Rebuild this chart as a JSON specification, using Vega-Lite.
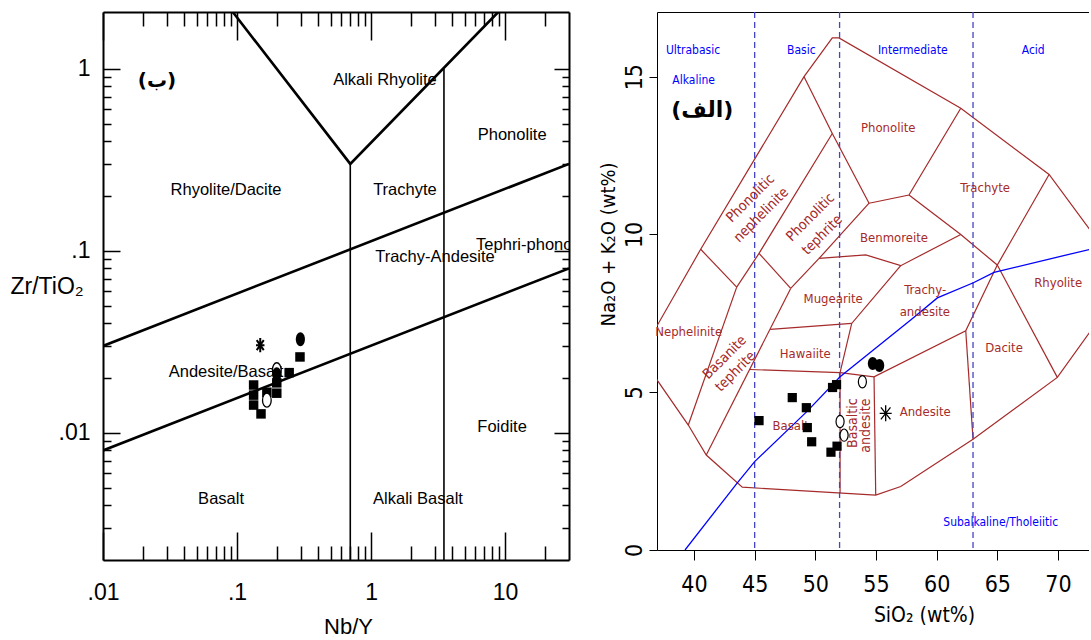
{
  "$schema": "https://vega.github.io/schema/vega-lite/v6.json",
  "background": "white",
  "padding": {"left": 10, "top": 11, "right": 0, "bottom": 0},
  "spacing": 29,
  "config": {"view": {"stroke": null}, "axis": {"grid": false}},
  "datasets": {
    "lz": [
      {"seg": "a", "g": "b", "o": 1, "x": 0.01, "y": 0.03}, {"seg": "a", "g": "b", "o": 2, "x": 30, "y": 0.3},
      {"seg": "b", "g": "b", "o": 1, "x": 0.01, "y": 0.008}, {"seg": "b", "g": "b", "o": 2, "x": 30, "y": 0.08},
      {"seg": "c", "g": "v", "o": 1, "x": 0.7, "y": 0.002}, {"seg": "c", "g": "v", "o": 2, "x": 0.7, "y": 0.3},
      {"seg": "d", "g": "v", "o": 1, "x": 3.5, "y": 0.002}, {"seg": "d", "g": "v", "o": 2, "x": 3.5, "y": 1},
      {"seg": "e", "g": "b", "o": 1, "x": 0.093, "y": 2.05}, {"seg": "e", "g": "b", "o": 2, "x": 0.7, "y": 0.3}, {"seg": "e", "g": "b", "o": 3, "x": 8.9, "y": 2.05}
    ],
    "ll": [
      {"x": 1.27, "y": 0.867, "t": "Alkali Rhyolite", "k": "c"},
      {"x": 11.3, "y": 0.432, "t": "Phonolite", "k": "c"},
      {"x": 0.0828, "y": 0.216, "t": "Rhyolite/Dacite", "k": "c"},
      {"x": 1.79, "y": 0.216, "t": "Trachyte", "k": "c"},
      {"x": 6.08, "y": 0.107, "t": "Tephri-phonolite", "k": "l"},
      {"x": 3.0, "y": 0.0923, "t": "Trachy-Andesite", "k": "c"},
      {"x": 0.0828, "y": 0.0216, "t": "Andesite/Basalt", "k": "c"},
      {"x": 0.076, "y": 0.00432, "t": "Basalt", "k": "c"},
      {"x": 2.24, "y": 0.00432, "t": "Alkali Basalt", "k": "c"},
      {"x": 9.5, "y": 0.0107, "t": "Foidite", "k": "c"},
      {"x": 0.0253, "y": 0.86, "t": "(ب)", "k": "t"}
    ],
    "lp": [
      {"x": 0.133, "y": 0.0183, "s": "sq"}, {"x": 0.133, "y": 0.0161, "s": "sq"}, {"x": 0.133, "y": 0.0142, "s": "sq"},
      {"x": 0.151, "y": 0.0127, "s": "sq"}, {"x": 0.167, "y": 0.0167, "s": "sq"},
      {"x": 0.198, "y": 0.0188, "s": "sq"}, {"x": 0.198, "y": 0.0165, "s": "sq"},
      {"x": 0.245, "y": 0.0214, "s": "sq"}, {"x": 0.295, "y": 0.0261, "s": "sq"},
      {"x": 0.167, "y": 0.0151, "s": "oc"}, {"x": 0.198, "y": 0.0222, "s": "oc"},
      {"x": 0.198, "y": 0.021, "s": "fc"}, {"x": 0.297, "y": 0.0326, "s": "fc"},
      {"x": 0.149, "y": 0.0303, "s": "st"}
    ],
    "tz": [
      {"seg": "u", "o": 1, "S": 36.5, "A": 6.8}, {"seg": "u", "o": 2, "S": 40.55, "A": 9.53}, {"seg": "u", "o": 3, "S": 49.07, "A": 15.0}, {"seg": "u", "o": 4, "S": 51.4, "A": 16.23}, {"seg": "u", "o": 5, "S": 51.95, "A": 16.23}, {"seg": "u", "o": 6, "S": 61.99, "A": 14.0}, {"seg": "u", "o": 7, "S": 69.27, "A": 11.9}, {"seg": "u", "o": 8, "S": 75, "A": 8.92},
      {"seg": "l", "o": 1, "S": 36.5, "A": 5.64}, {"seg": "l", "o": 2, "S": 39.53, "A": 3.96}, {"seg": "l", "o": 3, "S": 41.01, "A": 3.01}, {"seg": "l", "o": 4, "S": 43.98, "A": 1.99}, {"seg": "l", "o": 5, "S": 54.98, "A": 1.74}, {"seg": "l", "o": 6, "S": 57.04, "A": 2.01}, {"seg": "l", "o": 7, "S": 63.0, "A": 3.51}, {"seg": "l", "o": 8, "S": 69.95, "A": 5.47}, {"seg": "l", "o": 9, "S": 75, "A": 8.18},
      {"seg": "n1", "o": 1, "S": 40.55, "A": 9.53}, {"seg": "n1", "o": 2, "S": 43.52, "A": 8.33},
      {"seg": "n2", "o": 1, "S": 43.52, "A": 8.33}, {"seg": "n2", "o": 2, "S": 39.53, "A": 3.96},
      {"seg": "n3", "o": 1, "S": 43.52, "A": 8.33}, {"seg": "n3", "o": 2, "S": 45.36, "A": 9.4}, {"seg": "n3", "o": 3, "S": 51.4, "A": 13.2},
      {"seg": "n4", "o": 1, "S": 49.07, "A": 15.0}, {"seg": "n4", "o": 2, "S": 51.4, "A": 13.2}, {"seg": "n4", "o": 3, "S": 54.43, "A": 10.99},
      {"seg": "n5", "o": 1, "S": 45.36, "A": 9.4}, {"seg": "n5", "o": 2, "S": 47.97, "A": 8.29},
      {"seg": "n6", "o": 1, "S": 47.97, "A": 8.29}, {"seg": "n6", "o": 2, "S": 41.01, "A": 3.01},
      {"seg": "n7", "o": 1, "S": 47.97, "A": 8.29}, {"seg": "n7", "o": 2, "S": 50.31, "A": 9.24}, {"seg": "n7", "o": 3, "S": 54.43, "A": 10.99},
      {"seg": "n8", "o": 1, "S": 54.43, "A": 10.99}, {"seg": "n8", "o": 2, "S": 57.72, "A": 11.25}, {"seg": "n8", "o": 3, "S": 61.99, "A": 14.0},
      {"seg": "n9", "o": 1, "S": 57.72, "A": 11.25}, {"seg": "n9", "o": 2, "S": 61.99, "A": 10.0}, {"seg": "n9", "o": 3, "S": 65.0, "A": 9.03}, {"seg": "n9", "o": 4, "S": 69.27, "A": 11.9},
      {"seg": "n10", "o": 1, "S": 50.31, "A": 9.24}, {"seg": "n10", "o": 2, "S": 54.16, "A": 9.35}, {"seg": "n10", "o": 3, "S": 57.04, "A": 9.01}, {"seg": "n10", "o": 4, "S": 61.99, "A": 10.0},
      {"seg": "n11", "o": 1, "S": 46.28, "A": 6.99}, {"seg": "n11", "o": 2, "S": 53.0, "A": 7.18},
      {"seg": "n12", "o": 1, "S": 57.04, "A": 9.01}, {"seg": "n12", "o": 2, "S": 53.0, "A": 7.18}, {"seg": "n12", "o": 3, "S": 52.04, "A": 5.62},
      {"seg": "n13", "o": 1, "S": 44.58, "A": 5.72}, {"seg": "n13", "o": 2, "S": 52.04, "A": 5.62}, {"seg": "n13", "o": 3, "S": 54.84, "A": 5.49}, {"seg": "n13", "o": 4, "S": 62.4, "A": 6.95}, {"seg": "n13", "o": 5, "S": 65.0, "A": 9.03},
      {"seg": "n14", "o": 1, "S": 62.4, "A": 6.95}, {"seg": "n14", "o": 2, "S": 63.0, "A": 3.51},
      {"seg": "n15", "o": 1, "S": 65.0, "A": 9.03}, {"seg": "n15", "o": 2, "S": 69.95, "A": 5.47},
      {"seg": "n16", "o": 1, "S": 54.84, "A": 5.49}, {"seg": "n16", "o": 2, "S": 54.98, "A": 1.74},
      {"seg": "n17", "o": 1, "S": 52.04, "A": 5.62}, {"seg": "n17", "o": 2, "S": 52.04, "A": 1.81}
    ],
    "tc": [
      {"o": 1, "S": 39.26, "A": 0}, {"o": 2, "S": 43.57, "A": 2.13}, {"o": 3, "S": 45.0, "A": 2.8}, {"o": 4, "S": 49.34, "A": 4.4},
      {"o": 5, "S": 52.04, "A": 5.49}, {"o": 6, "S": 57.86, "A": 7.29}, {"o": 7, "S": 60.06, "A": 7.99}, {"o": 8, "S": 63.03, "A": 8.47},
      {"o": 9, "S": 64.73, "A": 8.8}, {"o": 10, "S": 72.65, "A": 9.53}, {"o": 11, "S": 75, "A": 9.73}
    ],
    "td": [{"S": 45}, {"S": 52}, {"S": 63}],
    "tl": [
      {"S": 39.92, "A": 15.86, "t": "Ultrabasic", "k": "b"},
      {"S": 39.97, "A": 14.89, "t": "Alkaline", "k": "b"},
      {"S": 48.85, "A": 15.86, "t": "Basic", "k": "b"},
      {"S": 58.03, "A": 15.86, "t": "Intermediate", "k": "b"},
      {"S": 67.96, "A": 15.86, "t": "Acid", "k": "b"},
      {"S": 65.28, "A": 0.9, "t": "Subalkaline/Tholeiitic", "k": "b"},
      {"S": 56.01, "A": 13.36, "t": "Phonolite", "k": "h"},
      {"S": 64.0, "A": 11.46, "t": "Trachyte", "k": "h"},
      {"S": 56.49, "A": 9.88, "t": "Benmoreite", "k": "h"},
      {"S": 59.06, "A": 8.24, "t": "Trachy-", "k": "h"},
      {"S": 59.03, "A": 7.55, "t": "andesite", "k": "h"},
      {"S": 70.02, "A": 8.47, "t": "Rhyolite", "k": "h"},
      {"S": 51.47, "A": 7.94, "t": "Mugearite", "k": "h"},
      {"S": 49.17, "A": 6.21, "t": "Hawaiite", "k": "h"},
      {"S": 47.97, "A": 3.93, "t": "Basalt", "k": "h"},
      {"S": 59.06, "A": 4.38, "t": "Andesite", "k": "h"},
      {"S": 65.56, "A": 6.39, "t": "Dacite", "k": "h"},
      {"S": 39.56, "A": 6.92, "t": "Nephelinite", "k": "h"},
      {"S": 53.11, "A": 4.02, "t": "Basaltic", "k": "v"},
      {"S": 54.2, "A": 3.94, "t": "andesite", "k": "v"},
      {"S": 42.54, "A": 6.1, "t": "Basanite", "k": "d"},
      {"S": 43.44, "A": 5.65, "t": "tephrite", "k": "d"},
      {"S": 44.67, "A": 11.14, "t": "Phonolitic", "k": "d"},
      {"S": 45.55, "A": 10.61, "t": "nephelinite", "k": "d"},
      {"S": 49.62, "A": 10.54, "t": "Phonolitic", "k": "d"},
      {"S": 50.58, "A": 9.98, "t": "tephrite", "k": "d"},
      {"S": 40.68, "A": 13.94, "t": "(الف)", "k": "t"}
    ],
    "tp": [
      {"S": 45.36, "A": 4.1, "s": "sq"}, {"S": 48.1, "A": 4.83, "s": "sq"}, {"S": 49.26, "A": 4.51, "s": "sq"},
      {"S": 49.34, "A": 3.88, "s": "sq"}, {"S": 49.7, "A": 3.43, "s": "sq"},
      {"S": 51.42, "A": 5.15, "s": "sq"}, {"S": 51.75, "A": 5.24, "s": "sq"},
      {"S": 51.29, "A": 3.1, "s": "sq"}, {"S": 51.79, "A": 3.29, "s": "sq"},
      {"S": 52.04, "A": 4.07, "s": "oc"}, {"S": 52.37, "A": 3.64, "s": "oc"}, {"S": 53.88, "A": 5.33, "s": "oc"},
      {"S": 54.73, "A": 5.91, "s": "fc"}, {"S": 55.28, "A": 5.85, "s": "fc"},
      {"S": 55.8, "A": 4.33, "s": "st"}
    ]
  },
  "hconcat": [
    {
      "width": 466,
      "height": 548,
      "resolve": {"axis": {"x": "independent", "y": "independent"}},
      "layer": [
        {
          "layer": [
            {
              "data": {"name": "lz"},
              "transform": [{"filter": "datum.g == 'b'"}],
              "mark": {"type": "line", "color": "black", "strokeWidth": 2.6, "clip": true},
              "encoding": {
                "x": {"field": "x", "type": "quantitative", "scale": {"type": "log", "domain": [0.01, 30], "nice": false},
                  "axis": {"orient": "bottom", "tickCount": 100,
                    "values": [0.01,0.02,0.03,0.04,0.05,0.06,0.07,0.08,0.09,0.1,0.2,0.3,0.4,0.5,0.6,0.7,0.8,0.9,1,2,3,4,5,6,7,8,9,10,20],
                    "labelExpr": "datum.value == 0.01 ? '.01' : datum.value == 0.1 ? '.1' : datum.value == 1 ? '1' : datum.value == 10 ? '10' : ''",
                    "labelFlush": false, "labelOverlap": false, "labelFont": "Liberation Sans", "labelFontSize": 23, "labelColor": "black", "labelPadding": 21,
                    "ticks": false,
                    "grid": true, "gridColor": "black", "gridWidth": 1.5, "gridOpacity": 1,
                    "gridDash": {"condition": {"test": "indexof([0.01,0.1,1,10], datum.value) >= 0", "value": [28, 492, 28, 100]}, "value": [14, 520, 14, 100]},
                    "domainColor": "black", "domainWidth": 2,
                    "title": "Nb/Y", "titleFont": "Liberation Sans", "titleFontSize": 22, "titleFontWeight": "normal", "titleColor": "black", "titlePadding": 12, "titleX": 245}},
                "y": {"field": "y", "type": "quantitative", "scale": {"type": "log", "domain": [0.002, 2.05], "nice": false},
                  "axis": {"orient": "left", "tickCount": 100,
                    "values": [0.003,0.004,0.005,0.006,0.007,0.008,0.009,0.01,0.02,0.03,0.04,0.05,0.06,0.07,0.08,0.09,0.1,0.2,0.3,0.4,0.5,0.6,0.7,0.8,0.9,1],
                    "labelExpr": "datum.value == 0.01 ? '.01' : datum.value == 0.1 ? '.1' : datum.value == 1 ? '1' : ''",
                    "labelFlush": false, "labelOverlap": false, "labelFont": "Liberation Sans", "labelFontSize": 23, "labelColor": "black", "labelPadding": 13,
                    "ticks": false,
                    "grid": true, "gridColor": "black", "gridWidth": 1.5, "gridOpacity": 1,
                    "gridDash": {"condition": {"test": "indexof([0.01,0.1,1], datum.value) >= 0", "value": [17, 434, 15, 100]}, "value": [8, 451, 7, 100]},
                    "domainColor": "black", "domainWidth": 2,
                    "title": "Zr/TiO₂", "titleFont": "Liberation Sans", "titleFontSize": 23, "titleFontWeight": "normal", "titleColor": "black",
                    "titleAngle": 0, "titleAlign": "left", "titleBaseline": "middle", "titleX": -93, "titleY": 274}},
                "detail": {"field": "seg"},
                "order": {"field": "o"}
              }
            },
            {
              "data": {"name": "lz"},
              "transform": [{"filter": "datum.g == 'v'"}],
              "mark": {"type": "line", "color": "black", "strokeWidth": 1.6, "clip": true},
              "encoding": {
                "x": {"field": "x", "type": "quantitative", "scale": {"type": "log", "domain": [0.01, 30], "nice": false}},
                "y": {"field": "y", "type": "quantitative", "scale": {"type": "log", "domain": [0.002, 2.05], "nice": false}},
                "detail": {"field": "seg"},
                "order": {"field": "o"}
              }
            },
            {
              "data": {"name": "ll"},
              "transform": [{"filter": "datum.k == 'c'"}],
              "mark": {"type": "text", "font": "Liberation Sans", "fontSize": 16.5, "color": "black", "align": "center", "baseline": "middle"},
              "encoding": {
                "x": {"field": "x", "type": "quantitative", "scale": {"type": "log", "domain": [0.01, 30], "nice": false}},
                "y": {"field": "y", "type": "quantitative", "scale": {"type": "log", "domain": [0.002, 2.05], "nice": false}},
                "text": {"field": "t"}
              }
            },
            {
              "data": {"name": "ll"},
              "transform": [{"filter": "datum.k == 'l'"}],
              "mark": {"type": "text", "font": "Liberation Sans", "fontSize": 16.5, "color": "black", "align": "left", "baseline": "middle", "clip": true},
              "encoding": {
                "x": {"field": "x", "type": "quantitative", "scale": {"type": "log", "domain": [0.01, 30], "nice": false}},
                "y": {"field": "y", "type": "quantitative", "scale": {"type": "log", "domain": [0.002, 2.05], "nice": false}},
                "text": {"field": "t"}
              }
            },
            {
              "data": {"name": "ll"},
              "transform": [{"filter": "datum.k == 't'"}],
              "mark": {"type": "text", "font": "DejaVu Sans", "fontSize": 20, "fontWeight": "bold", "color": "black", "align": "center", "baseline": "middle"},
              "encoding": {
                "x": {"field": "x", "type": "quantitative", "scale": {"type": "log", "domain": [0.01, 30], "nice": false}},
                "y": {"field": "y", "type": "quantitative", "scale": {"type": "log", "domain": [0.002, 2.05], "nice": false}},
                "text": {"field": "t"}
              }
            },
            {
              "data": {"name": "lp"},
              "transform": [{"filter": "datum.s == 'sq'"}],
              "mark": {"type": "point", "shape": "square", "filled": true, "color": "black", "opacity": 1, "size": 90},
              "encoding": {
                "x": {"field": "x", "type": "quantitative", "scale": {"type": "log", "domain": [0.01, 30], "nice": false}},
                "y": {"field": "y", "type": "quantitative", "scale": {"type": "log", "domain": [0.002, 2.05], "nice": false}}
              }
            },
            {
              "data": {"name": "lp"},
              "transform": [{"filter": "datum.s == 'oc'"}],
              "mark": {"type": "point", "shape": "M -0.62 0 A 0.62 1 0 1 0 0.62 0 A 0.62 1 0 1 0 -0.62 0 Z", "filled": true, "fill": "white", "stroke": "black", "strokeWidth": 1.3, "opacity": 1, "size": 196},
              "encoding": {
                "x": {"field": "x", "type": "quantitative", "scale": {"type": "log", "domain": [0.01, 30], "nice": false}},
                "y": {"field": "y", "type": "quantitative", "scale": {"type": "log", "domain": [0.002, 2.05], "nice": false}}
              }
            },
            {
              "data": {"name": "lp"},
              "transform": [{"filter": "datum.s == 'fc'"}],
              "mark": {"type": "point", "shape": "M -0.65 0 A 0.65 1 0 1 0 0.65 0 A 0.65 1 0 1 0 -0.65 0 Z", "filled": true, "color": "black", "opacity": 1, "size": 196},
              "encoding": {
                "x": {"field": "x", "type": "quantitative", "scale": {"type": "log", "domain": [0.01, 30], "nice": false}},
                "y": {"field": "y", "type": "quantitative", "scale": {"type": "log", "domain": [0.002, 2.05], "nice": false}}
              }
            },
            {
              "data": {"name": "lp"},
              "transform": [{"filter": "datum.s == 'st'"}],
              "mark": {"type": "point", "shape": "M -0.6 0 L 0.6 0 M 0 -1 L 0 1 M -0.5 -0.7 L 0.5 0.7 M -0.5 0.7 L 0.5 -0.7", "filled": false, "stroke": "black", "strokeWidth": 2, "opacity": 1, "size": 200},
              "encoding": {
                "x": {"field": "x", "type": "quantitative", "scale": {"type": "log", "domain": [0.01, 30], "nice": false}},
                "y": {"field": "y", "type": "quantitative", "scale": {"type": "log", "domain": [0.002, 2.05], "nice": false}}
              }
            }
          ]
        },
        {
          "data": {"name": "lz"},
          "mark": {"type": "line", "opacity": 0},
          "encoding": {
            "x": {"field": "x", "type": "quantitative", "scale": {"type": "log", "domain": [0.01, 30], "nice": false},
              "axis": {"orient": "top", "ticks": false, "labels": false, "title": null, "domainColor": "black", "domainWidth": 2}},
            "y": {"field": "y", "type": "quantitative", "scale": {"type": "log", "domain": [0.002, 2.05], "nice": false},
              "axis": {"orient": "right", "ticks": false, "labels": false, "title": null, "domainColor": "black", "domainWidth": 2}},
            "detail": {"field": "seg"}
          }
        }
      ]
    },
    {
      "width": 432,
      "height": 538,
      "resolve": {"axis": {"x": "independent"}},
      "layer": [
        {
          "layer": [
            {
              "data": {"name": "tz"},
              "mark": {"type": "line", "color": "#a52a2a", "strokeWidth": 1.2, "clip": true},
              "encoding": {
                "x": {"field": "S", "type": "quantitative", "scale": {"domain": [36.95, 72.56], "nice": false, "zero": false},
                  "axis": {"orient": "bottom", "values": [40,45,50,55,60,65,70], "format": "d", "tickSize": 10, "tickColor": "black", "tickWidth": 1,
                    "domainColor": "black", "domainWidth": 1, "labelFont": "DejaVu Sans Condensed, sans-serif", "labelFontSize": 23,
                    "labelColor": "black", "labelPadding": 13, "labelFlush": false,
                    "title": "SiO₂ (wt%)", "titleFont": "DejaVu Sans Condensed, sans-serif", "titleFontSize": 21,
                    "titleFontWeight": "normal", "titleColor": "black", "titleX": 267, "titlePadding": 8}},
                "y": {"field": "A", "type": "quantitative", "scale": {"domain": [0, 17.05], "nice": false, "zero": false},
                  "axis": {"orient": "left", "values": [0,5,10,15], "format": "d", "tickSize": 8, "tickColor": "black", "tickWidth": 1,
                    "domainColor": "black", "domainWidth": 1, "labelFont": "DejaVu Sans Condensed, sans-serif", "labelFontSize": 23,
                    "labelColor": "black", "labelAngle": 270, "labelAlign": "center", "labelBaseline": "bottom", "labelPadding": 3, "labelFlush": false,
                    "title": "Na₂O + K₂O (wt%)", "titleFont": "DejaVu Sans Condensed, sans-serif", "titleFontSize": 20,
                    "titleFontWeight": "normal", "titleColor": "black", "titleY": 232, "titlePadding": 5}},
                "detail": {"field": "seg"},
                "order": {"field": "o"}
              }
            },
            {
              "data": {"name": "td"},
              "mark": {"type": "rule", "color": "#4444c4", "strokeDash": [6, 4], "strokeWidth": 1.3},
              "encoding": {
                "x": {"field": "S", "type": "quantitative", "scale": {"domain": [36.95, 72.56], "nice": false, "zero": false}}
              }
            },
            {
              "data": {"name": "tc"},
              "mark": {"type": "line", "color": "#0000ff", "strokeWidth": 1.3, "clip": true},
              "encoding": {
                "x": {"field": "S", "type": "quantitative", "scale": {"domain": [36.95, 72.56], "nice": false, "zero": false}},
                "y": {"field": "A", "type": "quantitative", "scale": {"domain": [0, 17.05], "nice": false, "zero": false}},
                "order": {"field": "o"}
              }
            },
            {
              "data": {"name": "tl"},
              "transform": [{"filter": "datum.k == 'b'"}],
              "mark": {"type": "text", "font": "DejaVu Sans Condensed, sans-serif", "fontSize": 12, "color": "#0000ff", "align": "center", "baseline": "middle"},
              "encoding": {
                "x": {"field": "S", "type": "quantitative", "scale": {"domain": [36.95, 72.56], "nice": false, "zero": false}},
                "y": {"field": "A", "type": "quantitative", "scale": {"domain": [0, 17.05], "nice": false, "zero": false}},
                "text": {"field": "t"}
              }
            },
            {
              "data": {"name": "tl"},
              "transform": [{"filter": "datum.k == 'h'"}],
              "mark": {"type": "text", "font": "DejaVu Sans Condensed, sans-serif", "fontSize": 13, "color": "#a52a2a", "align": "center", "baseline": "middle"},
              "encoding": {
                "x": {"field": "S", "type": "quantitative", "scale": {"domain": [36.95, 72.56], "nice": false, "zero": false}},
                "y": {"field": "A", "type": "quantitative", "scale": {"domain": [0, 17.05], "nice": false, "zero": false}},
                "text": {"field": "t"}
              }
            },
            {
              "data": {"name": "tl"},
              "transform": [{"filter": "datum.k == 'v'"}],
              "mark": {"type": "text", "font": "DejaVu Sans Condensed, sans-serif", "fontSize": 14, "color": "#a52a2a", "align": "center", "baseline": "middle", "angle": 270},
              "encoding": {
                "x": {"field": "S", "type": "quantitative", "scale": {"domain": [36.95, 72.56], "nice": false, "zero": false}},
                "y": {"field": "A", "type": "quantitative", "scale": {"domain": [0, 17.05], "nice": false, "zero": false}},
                "text": {"field": "t"}
              }
            },
            {
              "data": {"name": "tl"},
              "transform": [{"filter": "datum.k == 'd'"}],
              "mark": {"type": "text", "font": "DejaVu Sans Condensed, sans-serif", "fontSize": 14, "color": "#a52a2a", "align": "center", "baseline": "middle", "angle": 315},
              "encoding": {
                "x": {"field": "S", "type": "quantitative", "scale": {"domain": [36.95, 72.56], "nice": false, "zero": false}},
                "y": {"field": "A", "type": "quantitative", "scale": {"domain": [0, 17.05], "nice": false, "zero": false}},
                "text": {"field": "t"}
              }
            },
            {
              "data": {"name": "tl"},
              "transform": [{"filter": "datum.k == 't'"}],
              "mark": {"type": "text", "font": "DejaVu Sans", "fontSize": 22, "fontWeight": "bold", "color": "black", "align": "center", "baseline": "middle"},
              "encoding": {
                "x": {"field": "S", "type": "quantitative", "scale": {"domain": [36.95, 72.56], "nice": false, "zero": false}},
                "y": {"field": "A", "type": "quantitative", "scale": {"domain": [0, 17.05], "nice": false, "zero": false}},
                "text": {"field": "t"}
              }
            },
            {
              "data": {"name": "tp"},
              "transform": [{"filter": "datum.s == 'sq'"}],
              "mark": {"type": "point", "shape": "square", "filled": true, "color": "black", "opacity": 1, "size": 85},
              "encoding": {
                "x": {"field": "S", "type": "quantitative", "scale": {"domain": [36.95, 72.56], "nice": false, "zero": false}},
                "y": {"field": "A", "type": "quantitative", "scale": {"domain": [0, 17.05], "nice": false, "zero": false}}
              }
            },
            {
              "data": {"name": "tp"},
              "transform": [{"filter": "datum.s == 'oc'"}],
              "mark": {"type": "point", "shape": "M -0.66 0 A 0.66 1 0 1 0 0.66 0 A 0.66 1 0 1 0 -0.66 0 Z", "filled": true, "fill": "white", "stroke": "black", "strokeWidth": 1.2, "opacity": 1, "size": 150},
              "encoding": {
                "x": {"field": "S", "type": "quantitative", "scale": {"domain": [36.95, 72.56], "nice": false, "zero": false}},
                "y": {"field": "A", "type": "quantitative", "scale": {"domain": [0, 17.05], "nice": false, "zero": false}}
              }
            },
            {
              "data": {"name": "tp"},
              "transform": [{"filter": "datum.s == 'fc'"}],
              "mark": {"type": "point", "shape": "M -0.75 0 A 0.75 1 0 1 0 0.75 0 A 0.75 1 0 1 0 -0.75 0 Z", "filled": true, "color": "black", "opacity": 1, "size": 169},
              "encoding": {
                "x": {"field": "S", "type": "quantitative", "scale": {"domain": [36.95, 72.56], "nice": false, "zero": false}},
                "y": {"field": "A", "type": "quantitative", "scale": {"domain": [0, 17.05], "nice": false, "zero": false}}
              }
            },
            {
              "data": {"name": "tp"},
              "transform": [{"filter": "datum.s == 'st'"}],
              "mark": {"type": "point", "shape": "M -0.75 0 L 0.75 0 M 0 -1 L 0 1 M -0.6 -0.75 L 0.6 0.75 M -0.6 0.75 L 0.6 -0.75", "filled": false, "stroke": "black", "strokeWidth": 1.3, "opacity": 1, "size": 256},
              "encoding": {
                "x": {"field": "S", "type": "quantitative", "scale": {"domain": [36.95, 72.56], "nice": false, "zero": false}},
                "y": {"field": "A", "type": "quantitative", "scale": {"domain": [0, 17.05], "nice": false, "zero": false}}
              }
            }
          ]
        },
        {
          "data": {"name": "td"},
          "mark": {"type": "rule", "opacity": 0},
          "encoding": {
            "x": {"field": "S", "type": "quantitative", "scale": {"domain": [36.95, 72.56], "nice": false, "zero": false},
              "axis": {"orient": "top", "ticks": false, "labels": false, "title": null, "domainColor": "black", "domainWidth": 1}}
          }
        }
      ]
    }
  ]
}
